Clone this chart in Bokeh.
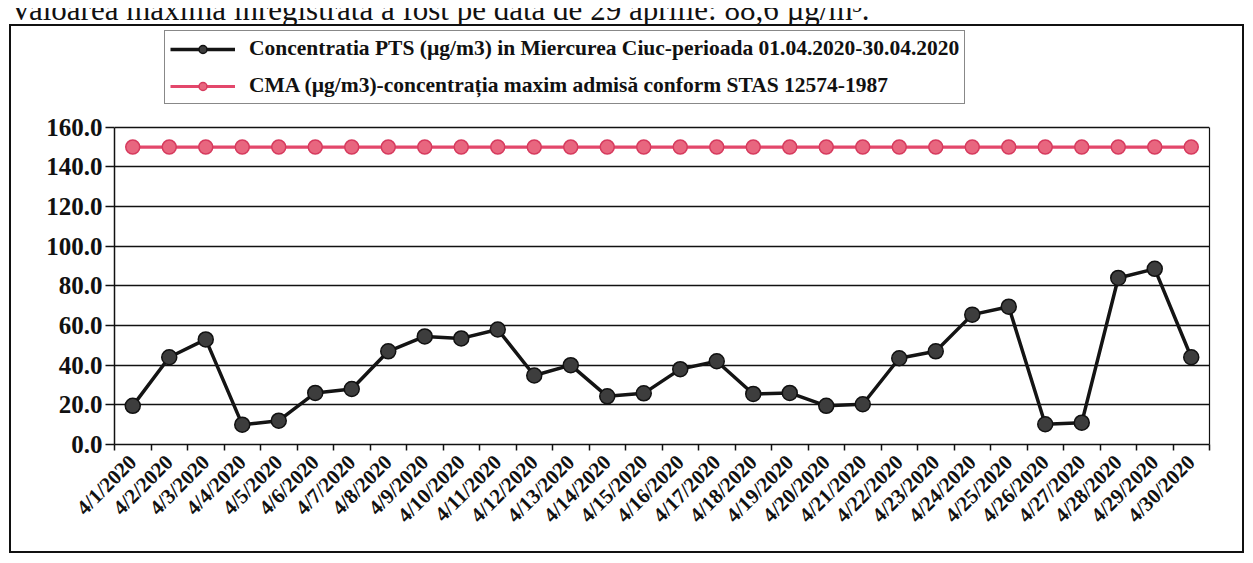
import math
from bokeh.plotting import figure
from bokeh.models import (Range1d, FixedTicker, NumeralTickFormatter, Legend,
                          LegendItem, ColumnDataSource, Div, LinearAxis)
from bokeh.layouts import column
from bokeh.embed import file_html
from bokeh.resources import INLINE

# ---------------- data ----------------
dates = ["4/1/2020", "4/2/2020", "4/3/2020", "4/4/2020", "4/5/2020",
         "4/6/2020", "4/7/2020", "4/8/2020", "4/9/2020", "4/10/2020",
         "4/11/2020", "4/12/2020", "4/13/2020", "4/14/2020", "4/15/2020",
         "4/16/2020", "4/17/2020", "4/18/2020", "4/19/2020", "4/20/2020",
         "4/21/2020", "4/22/2020", "4/23/2020", "4/24/2020", "4/25/2020",
         "4/26/2020", "4/27/2020", "4/28/2020", "4/29/2020", "4/30/2020"]

pts = [19.5, 44.0, 53.0, 10.0, 12.0, 26.0, 28.0, 47.0, 54.5, 53.5,
       58.0, 34.8, 40.0, 24.3, 25.8, 38.0, 42.0, 25.5, 26.0, 19.5,
       20.3, 43.5, 47.0, 65.5, 69.5, 10.2, 11.0, 84.0, 88.6, 44.0]

cma = [150.0] * 30

y_ticks = [0, 20, 40, 60, 80, 100, 120, 140, 160]
y_max = 160

label_pts = "Concentratia PTS (\u00b5g/m3) in Miercurea Ciuc-perioada 01.04.2020-30.04.2020"
label_cma = "CMA (\u00b5g/m3)-concentra\u021bia maxim admis\u0103 conform STAS 12574-1987"
top_text = "Valoarea maxim\u0103 \u00eenregistrat\u0103 a fost pe data de 29 aprilie: 88,6 \u00b5g/m\u00b3."

# ---------------- layout ----------------
AXIS_PX = 318          # pixels from 0.0 to 160.0
FRAME_PX = 419         # frame height incl. legend area above the plot box
y_end = y_max * FRAME_PX / AXIS_PX

xpos = [i + 0.5 for i in range(len(dates))]
src = ColumnDataSource(dict(x=xpos, pts=pts, cma=cma))

FONT = "Liberation Serif"

p = figure(width=1235, height=529,
           x_range=Range1d(0, len(dates)), y_range=Range1d(0, y_end),
           output_backend="svg", toolbar_location=None,
           min_border_left=103, min_border_right=37,
           min_border_top=0, min_border_bottom=111,
           background_fill_color="white", border_fill_color="white")
p.styles = {"border": "2px solid #111"}
p.outline_line_color = None

r2 = p.line("x", "cma", source=src, line_color="#e3476b", line_width=3.2)
r2m = p.scatter("x", "cma", source=src, size=14, fill_color="#e8667f",
                line_color="#d63b5e", line_width=1.5)
r1 = p.line("x", "pts", source=src, line_color="#141414", line_width=3.5)
r1m = p.scatter("x", "pts", source=src, size=15, fill_color="#3d3d3d",
                line_color="#111111", line_width=1.5)

# y axis
p.yaxis.ticker = FixedTicker(ticks=y_ticks)
p.yaxis.bounds = (0, y_max)
p.yaxis.formatter = NumeralTickFormatter(format="0.0")
p.yaxis.major_label_text_font = FONT
p.yaxis.major_label_text_font_style = "bold"
p.yaxis.major_label_text_font_size = "25px"
p.yaxis.major_label_text_color = "#111"
p.yaxis.major_label_standoff = 3
p.yaxis.axis_line_color = "#111"
p.yaxis.axis_line_width = 1.5
p.yaxis.major_tick_in = 0
p.yaxis.major_tick_out = 9
p.yaxis.major_tick_line_color = "#111"
p.yaxis.major_tick_line_width = 1.5
p.yaxis.minor_tick_line_color = None

# right edge of the plot box
right = LinearAxis(bounds=(0, y_max), ticker=FixedTicker(ticks=[]),
                   axis_line_color="#111", axis_line_width=1.2,
                   major_tick_line_color=None, minor_tick_line_color=None,
                   major_label_text_font_size="0px")
p.add_layout(right, "right")

# x axis: labels at category centres, ticks at boundaries
p.xaxis.ticker = FixedTicker(ticks=xpos, minor_ticks=list(range(len(dates) + 1)))
p.xaxis.major_label_overrides = {x: d for x, d in zip(xpos, dates)}
p.xaxis.major_label_orientation = math.pi / 4
p.xaxis.major_label_text_font = FONT
p.xaxis.major_label_text_font_style = "bold"
p.xaxis.major_label_text_font_size = "21px"
p.xaxis.major_label_text_color = "#111"
p.xaxis.major_label_standoff = 8
p.xaxis.major_tick_line_color = None
p.xaxis.minor_tick_in = 0
p.xaxis.minor_tick_out = 6
p.xaxis.minor_tick_line_color = "#111"
p.xaxis.minor_tick_line_width = 1.5
p.xaxis.axis_line_color = "#111"
p.xaxis.axis_line_width = 1.5

p.xgrid.grid_line_color = None
p.ygrid.grid_line_color = "#111"
p.ygrid.grid_line_width = 1.4

legend = Legend(items=[LegendItem(label=label_pts, renderers=[r1, r1m]),
                       LegendItem(label=label_cma, renderers=[r2, r2m])],
                location=(50, 340), orientation="vertical")
legend.label_text_font = FONT
legend.label_text_font_style = "bold"
legend.label_text_font_size = "21.5px"
legend.label_text_color = "#111"
legend.label_height = 20
legend.glyph_height = 20
legend.glyph_width = 65
legend.label_standoff = 14
legend.spacing = 12
legend.padding = 5
legend.margin = 0
legend.border_line_color = "#111"
legend.border_line_width = 1.5
legend.background_fill_color = "white"
legend.background_fill_alpha = 1.0
p.add_layout(legend, "center")

div = Div(text=('<div style="font-family: \'Liberation Serif\'; font-size: 31px; '
                'line-height: 31px; margin-top: -17px; margin-left: 1px; '
                'white-space: nowrap; color: #111;">' + top_text + '</div>'),
          width=1237, height=16, margin=0,
          styles={"overflow": "hidden"})

layout = column(div, p, spacing=0, margin=(8, 0, 0, 9))

open("out.html", "w").write(file_html(layout, INLINE))
